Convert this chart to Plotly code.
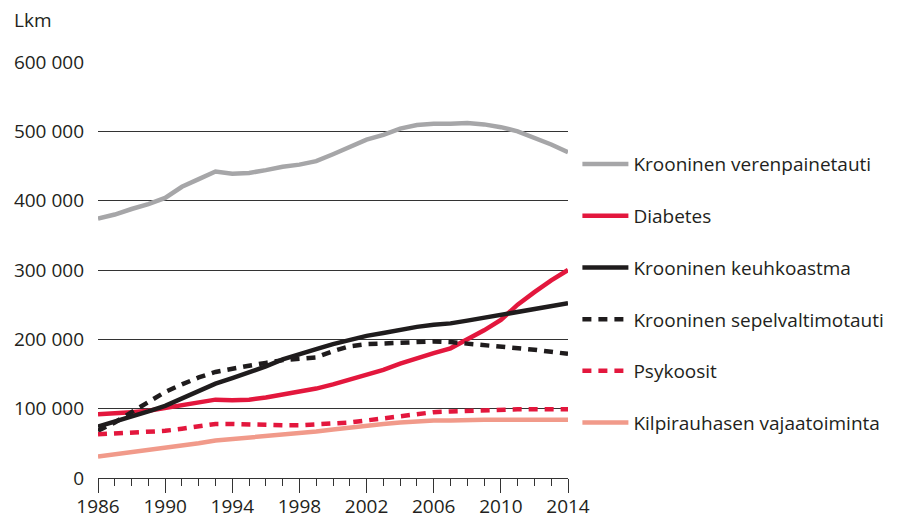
import plotly.graph_objects as go

years = list(range(1986, 2015))

verenpaine = [374000, 380000, 388000, 395000, 404000, 420000, 431000, 442000, 439000, 440000,
              444000, 449000, 452000, 457000, 467000, 478000, 488000, 495000, 504000, 509000,
              511000, 511000, 512000, 510000, 506000, 500000, 491000, 481000, 470000]
diabetes = [92000, 93000, 95000, 97000, 101000, 105000, 109000, 113000, 112000, 113000,
            116000, 120000, 124000, 129000, 135000, 142000, 149000, 156000, 165000, 173000,
            180000, 187000, 200000, 213000, 228000, 250000, 268000, 285000, 300000]
keuhkoastma = [74000, 81000, 88000, 96000, 104000, 115000, 126000, 136000, 144000, 152000,
               161000, 171000, 179000, 186000, 193000, 199000, 205000, 209000, 214000, 218000,
               221000, 223000, 227000, 231000, 235000, 240000, 244000, 248000, 252000]
sepelvaltimo = [68000, 80000, 95000, 110000, 124000, 135000, 145000, 153000, 158000, 162000,
                166000, 170000, 172000, 174000, 183000, 190000, 193000, 194000, 196000, 197000,
                197000, 196000, 194000, 192000, 190000, 188000, 185000, 182000, 179000]
psykoosit = [63000, 64000, 65000, 66000, 68000, 71000, 75000, 78000, 78000, 77000,
             76000, 76000, 76000, 77000, 78000, 80000, 83000, 86000, 90000, 93000,
             95000, 96000, 97000, 98000, 98000, 99000, 99000, 99000, 99000]
kilpirauhanen = [31000, 34000, 37000, 40000, 43000, 47000, 50000, 54000, 56000, 58000,
                 61000, 63000, 65000, 67000, 70000, 73000, 76000, 78000, 80000, 82000,
                 83000, 83000, 84000, 84000, 84000, 84000, 84000, 83000, 84000]

names = ["Krooninen verenpainetauti", "Diabetes", "Krooninen keuhkoastma",
         "Krooninen sepelvaltimotauti", "Psykoosit", "Kilpirauhasen vajaatoiminta"]
series = [verenpaine, diabetes, keuhkoastma, sepelvaltimo, psykoosit, kilpirauhanen]
colors = ["#a6a6a8", "#e3173d", "#1f1c1d", "#1f1c1d", "#e3173d", "#f19a8a"]
dashes = ["solid", "solid", "solid", "9px,7px", "9px,7px", "solid"]

FONT = "Open Sans"
TXT = "#231f20"
FS = 19

fig = go.Figure()
for i in range(6):
    fig.add_trace(go.Scatter(
        x=years, y=series[i], name=names[i], mode="lines",
        line=dict(color=colors[i], width=4.5, dash=dashes[i]),
        legendgroup=str(i), legendrank=i + 1,
    ))

fig.update_layout(
    width=899, height=521,
    margin=dict(l=90, r=339, t=54, b=51, autoexpand=False),
    paper_bgcolor="white", plot_bgcolor="white",
    font=dict(family=FONT, size=FS, color=TXT),
    separators=", ",
    showlegend=True,
    legend=dict(x=1.02, xanchor="left", y=0.80, yanchor="top",
                font=dict(family=FONT, size=FS, color=TXT),
                tracegroupgap=24, bgcolor="rgba(0,0,0,0)", itemwidth=46),
    xaxis=dict(range=[1986, 2014], tickmode="linear", tick0=1986, dtick=4,
               ticks="outside", ticklen=14, tickcolor="#333", tickwidth=1,
               showline=True, linecolor="#333", linewidth=1,
               showgrid=False, zeroline=False, automargin=False,
               ticklabelstandoff=-3,
               minor=dict(ticks="outside", ticklen=7, tickcolor="#333", dtick=1, tick0=1986, showgrid=False),
               tickfont=dict(size=FS)),
    yaxis=dict(range=[0, 600000], tickmode="linear", tick0=0, dtick=100000,
               tickformat=",d", showgrid=True, gridcolor="#333", gridwidth=1,
               zeroline=False, showline=False, ticks="", ticklabelstandoff=13,
               automargin=False, tickfont=dict(size=FS)),
    annotations=[dict(text="Lkm", xref="paper", yref="paper", x=-0.183, y=1.10,
                      xanchor="left", yanchor="middle", showarrow=False,
                      font=dict(size=FS, color=TXT))],
)

fig.write_html("out.html")
